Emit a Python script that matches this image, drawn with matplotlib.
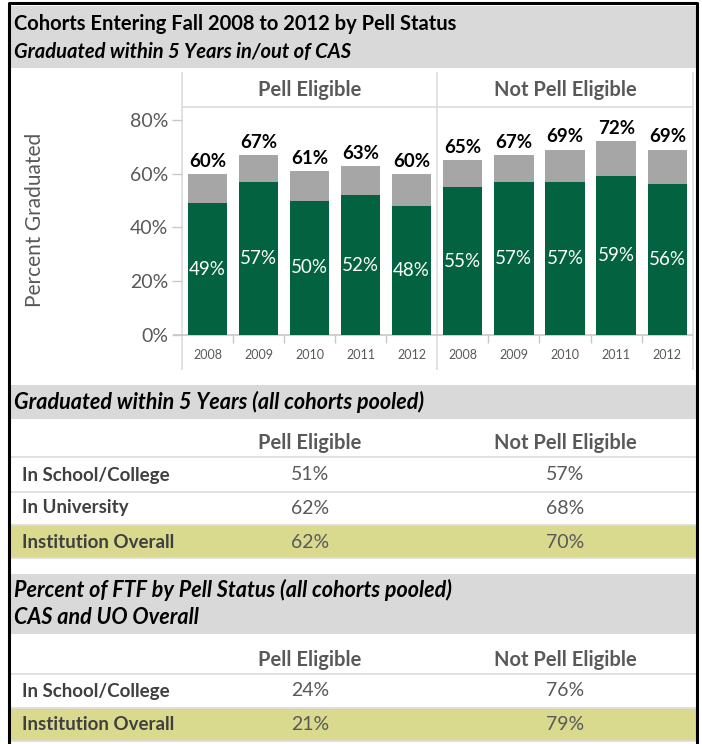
import matplotlib
matplotlib.use("Agg")
import matplotlib.pyplot as plt
from matplotlib.patches import Rectangle

plt.rcParams['font.family'] = ['Lato', 'DejaVu Sans']

# ---- data ----
years = ["2008", "2009", "2010", "2011", "2012"]
panels = ["Pell Eligible", "Not Pell Eligible"]
in_cas = [[49, 57, 50, 52, 48], [55, 57, 57, 59, 56]]
total_grad = [[60, 67, 61, 63, 60], [65, 67, 69, 72, 69]]
y_ticks = [0, 20, 40, 60, 80]

table1_title = "Graduated within 5 Years (all cohorts pooled)"
table1_rows = ["In School/College", "In University", "Institution Overall"]
table1_pell = ["51%", "62%", "62%"]
table1_not = ["57%", "68%", "70%"]

table2_title = ["Percent of FTF by Pell Status (all cohorts pooled)", "CAS and UO Overall"]
table2_rows = ["In School/College", "Institution Overall"]
table2_pell = ["24%", "21%"]
table2_not = ["76%", "79%"]

GREEN = "#03623F"
GREY_BAR = "#A6A6A6"
BAND = "#D9D9D9"
HILITE = "#D9DA8E"
LINE = "#DCDCDC"
TXT = "#595959"

W, H = 702, 744
fig = plt.figure(figsize=(W / 100, H / 100), dpi=100)

# background axes in pixel coordinates (y down)
bg = fig.add_axes([0, 0, 1, 1])
bg.set_xlim(0, W)
bg.set_ylim(H, 0)
bg.axis("off")


def box(x0, y0, x1, y1, color):
    bg.add_patch(Rectangle((x0, y0), x1 - x0, y1 - y0, color=color, lw=0, zorder=1))


def hline(y, x0, x1, color=LINE, lw=1.2):
    bg.plot([x0, x1], [y, y], color=color, lw=lw, zorder=2, solid_capstyle="butt")


def vline(x, y0, y1, color=LINE, lw=1.2):
    bg.plot([x, x], [y0, y1], color=color, lw=lw, zorder=2, solid_capstyle="butt")


# outer border
bg.plot([9, 9, 697, 697], [H + 5, 3, 3, H + 5], color="black", lw=2.2, zorder=5)

# title band
box(11, 6, 696, 68, BAND)
bg.text(14, 24, "Cohorts Entering Fall 2008 to 2012 by Pell Status", fontsize=14.5,
        fontweight="bold", va="center", ha="left", zorder=3)
bg.text(14, 52, "Graduated within 5 Years in/out of CAS", fontsize=14.5,
        fontweight="bold", style="italic", va="center", ha="left", zorder=3)

# panel frame
px = [182, 437, 693]
for x in px:
    vline(x, 72, 370)
hline(107, 182, 693)
hline(335, 173, 693, color="#C8C8C8")
for i, name in enumerate(panels):
    bg.text((px[i] + px[i + 1]) / 2, 90, name, fontsize=14.5, fontweight="bold",
            color=TXT, ha="center", va="center", zorder=3)

bg.text(35, 220, "Percent Graduated", rotation=90, fontsize=15, color=TXT,
        ha="center", va="center")

# bar panels
y_top, y_bot = 120, 335
for i in range(2):
    x0, x1 = px[i], px[i + 1]
    ax = fig.add_axes([x0 / W, 1 - y_bot / H, (x1 - x0) / W, (y_bot - y_top) / H])
    ax.patch.set_alpha(0)
    xs = list(range(len(years)))
    extra = [t - g for t, g in zip(total_grad[i], in_cas[i])]
    ax.bar(xs, in_cas[i], width=0.77, color=GREEN, zorder=2)
    ax.bar(xs, extra, bottom=in_cas[i], width=0.77, color=GREY_BAR, zorder=2)
    for x, g, t in zip(xs, in_cas[i], total_grad[i]):
        ax.text(x, g / 2, f"{g}%", color="white", fontsize=13.5, ha="center", va="center")
        ax.annotate(f"{t}%", (x, t), xytext=(0, 3), textcoords="offset points",
                    ha="center", va="bottom", fontsize=13.5, fontweight="bold")
    ax.set_xlim(-0.5, 4.5)
    ax.set_ylim(0, 80)
    for s in ax.spines.values():
        s.set_visible(False)
    ax.set_xticks(xs)
    ax.set_xticklabels(years, fontsize=9, color=TXT)
    ax.tick_params(axis="x", which="major", length=0, pad=10)
    ax.set_xticks([0.5, 1.5, 2.5, 3.5], minor=True)
    ax.tick_params(axis="x", which="minor", length=6, color="#C8C8C8", width=1)
    if i == 0:
        ax.set_yticks(y_ticks)
        ax.set_yticklabels([f"{v}%" for v in y_ticks], fontsize=14, color=TXT)
        ax.tick_params(axis="y", length=7, color="#C8C8C8", width=1, pad=3)
    else:
        ax.set_yticks([])

# table 1
col_x = [310, 565]
box(11, 385, 696, 419, BAND)
bg.text(14, 402, table1_title, fontsize=15.5, fontweight="bold", style="italic",
        va="center", ha="left", zorder=3)
bg.text(col_x[0], 443, panels[0], fontsize=14.5, fontweight="bold", color=TXT,
        ha="center", va="center")
bg.text(col_x[1], 443, panels[1], fontsize=14.5, fontweight="bold", color=TXT,
        ha="center", va="center")
row_y1 = [475, 508, 542]
box(11, 525, 696, 558, HILITE)
for y in [457, 492, 525, 558]:
    hline(y, 11, 696)
for lab, a, b, y in zip(table1_rows, table1_pell, table1_not, row_y1):
    bg.text(22, y, lab, fontsize=13.5, fontweight="bold", color="#404040", va="center", zorder=3)
    bg.text(col_x[0], y, a, fontsize=14, color=TXT, ha="center", va="center", zorder=3)
    bg.text(col_x[1], y, b, fontsize=14, color=TXT, ha="center", va="center", zorder=3)

# table 2
box(11, 574, 696, 634, BAND)
bg.text(14, 590, table2_title[0], fontsize=15.5, fontweight="bold", style="italic",
        va="center", ha="left", zorder=3)
bg.text(14, 617, table2_title[1], fontsize=15.5, fontweight="bold", style="italic",
        va="center", ha="left", zorder=3)
bg.text(col_x[0], 660, panels[0], fontsize=14.5, fontweight="bold", color=TXT,
        ha="center", va="center")
bg.text(col_x[1], 660, panels[1], fontsize=14.5, fontweight="bold", color=TXT,
        ha="center", va="center")
row_y2 = [691, 725]
box(11, 708, 696, 741, HILITE)
for y in [674, 708, 741]:
    hline(y, 11, 696)
for lab, a, b, y in zip(table2_rows, table2_pell, table2_not, row_y2):
    bg.text(22, y, lab, fontsize=13.5, fontweight="bold", color="#404040", va="center", zorder=3)
    bg.text(col_x[0], y, a, fontsize=14, color=TXT, ha="center", va="center", zorder=3)
    bg.text(col_x[1], y, b, fontsize=14, color=TXT, ha="center", va="center", zorder=3)

fig.savefig("out.png", dpi=100)
